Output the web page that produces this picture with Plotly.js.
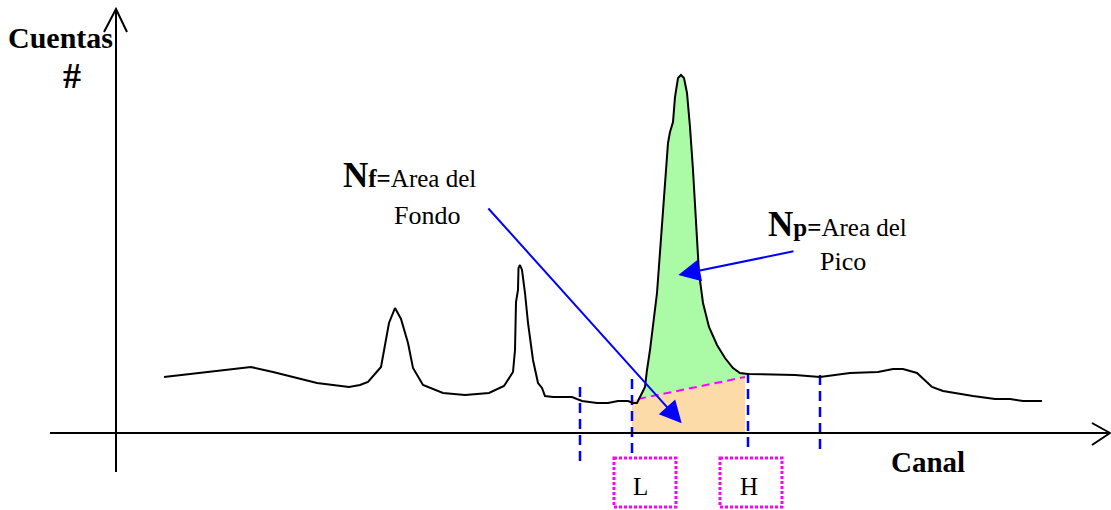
<!DOCTYPE html>
<html>
<head>
<meta charset="utf-8">
<script src="https://cdn.plot.ly/plotly-3.0.1.min.js"></script>
<style>html,body{margin:0;padding:0;background:#fff;}#chart{width:1111px;height:510px;}</style>
</head>
<body>
<div id="chart"></div>
<script>
// ---- spectrum data (channel, counts) ----
const channel = [164,251,273,317,349,360,368,381,389,395,401,408,413,423,443,465,489,504,513,515,516,518,518.5,520,522,525,528,533,538,542,545,553,572,582,597,608,618,628,633,637,642,645,647,650,657,663,668,670,673,675,678,681,684,687,690,693,696,699,703,709,717,725,733,740,748,795,820,850,878,893,903,917,932,943,973,995,1010,1023,1042];
const counts  = [56,66,61,50,46,48,51,66,110,125,114,90,65,48,40,38,40,47,61,83,131,143,165,168,163,140,110,73,50,45,37,36,36,32,30,30,32,32,30,30,40,46,63,83,140,223,290,301,311,336,355,358,355,340,306,263,206,160,130,106,88,75,65,60,59,58,56,60,61,64,64,60,46,42,37,34,34,32,32];

// region of interest and background windows
const roiChannels   = [632, 748];          // L, H
const windowChannels = [580, 632, 748, 820];
const windowTop      = [46, 54, 60, 58];
const windowBottom   = [-32, -24, -17, -20];
const roiLabels = ['L', 'H'];

// background line under the peak
const bgChannels = [638, 745];
const bgCounts   = [34, 56];

// texts
const yTitle1 = 'Cuentas';
const yTitle2 = '#';
const xTitle  = 'Canal';
const nfLine1 = "<b><span style='font-size:35px'>N</span>f=</b>Area del";
const nfLine2 = 'Fondo';
const npLine1 = "<b><span style='font-size:35px'>N</span>p=</b>Area del";
const npLine2 = 'Pico';

const FONT = "'Liberation Serif', 'Times New Roman', serif";
const BLUE = '#0000FF', MAG = '#FF00FF';

// ---- build fills ----
const bgAt = x => bgCounts[0] + (bgCounts[1]-bgCounts[0])*(x-bgChannels[0])/(bgChannels[1]-bgChannels[0]);
const orangeX = [roiChannels[0], roiChannels[0], bgChannels[1], bgChannels[1], roiChannels[0]];
const orangeY = [1, bgAt(roiChannels[0]), bgCounts[1], 1, 1];

const gX = [], gY = [];
for (let i=0;i<channel.length;i++){ if(channel[i]>=641 && channel[i]<=roiChannels[1]){ gX.push(channel[i]); gY.push(counts[i]); } }
gX.push(bgChannels[1], bgChannels[0]); gY.push(bgCounts[1], bgCounts[0]);

const traces = [];
traces.push({x:orangeX, y:orangeY, type:'scatter', mode:'lines', fill:'toself', fillcolor:'#FDDBA9', line:{width:0}, hoverinfo:'skip'});
traces.push({x:gX, y:gY, type:'scatter', mode:'lines', fill:'toself', fillcolor:'#AAFAA6', line:{width:0}, hoverinfo:'skip'});
traces.push({x:bgChannels, y:bgCounts, type:'scatter', mode:'lines', line:{color:MAG, width:2, dash:'8px,5px'}, hoverinfo:'skip'});
windowChannels.forEach((c,i)=>{
  traces.push({x:[c,c], y:[windowTop[i], windowBottom[i]], type:'scatter', mode:'lines', line:{color:BLUE, width:2.5, dash:'10px,6px'}, hoverinfo:'skip'});
});
traces.push({x:channel, y:counts, type:'scatter', mode:'lines', line:{color:'#000', width:2}, hoverinfo:'skip'});

// axes drawn as shapes
const shapes = [
  {type:'line', xref:'x', yref:'y', x0:50, y0:0, x1:1109, y1:0, line:{color:'#000', width:2}},
  {type:'path', xref:'x', yref:'y', path:'M1092,10 L1110,0 L1092,-12', line:{color:'#000', width:2}},
  {type:'line', xref:'x', yref:'y', x0:116, y0:-39, x1:116, y1:424, line:{color:'#000', width:2}},
  {type:'path', xref:'x', yref:'y', path:'M104,401 L116,424 L127,401', line:{color:'#000', width:2}}
];
roiChannels.forEach((c,i)=>{
  const cx = i===0 ? c+13 : c+3;
  shapes.push({type:'rect', xref:'x', yref:'y', x0:cx-31, x1:cx+31, y0:-25, y1:-74, line:{color:MAG, width:3, dash:'3px,2px'}});
});

const annotations = [
  {x:60.5, y:396, text:'<b>'+yTitle1+'</b>', showarrow:false, font:{family:FONT, size:30, color:'#000'}, xanchor:'center', yanchor:'middle', borderpad:0},
  {x:72, y:357, text:'<b>'+yTitle2+'</b>', showarrow:false, font:{family:FONT, size:36, color:'#000'}, xanchor:'center', yanchor:'middle', borderpad:0},
  {x:928, y:-29, text:'<b>'+xTitle+'</b>', showarrow:false, font:{family:FONT, size:29, color:'#000'}, xanchor:'center', yanchor:'middle', borderpad:0},
  {x:342, y:258, text:nfLine1, showarrow:false, font:{family:FONT, size:25, color:'#000'}, xanchor:'left', yanchor:'middle', borderpad:0},
  {x:427, y:218, text:nfLine2, showarrow:false, font:{family:FONT, size:26, color:'#000'}, xanchor:'center', yanchor:'middle', borderpad:0},
  {x:766.7, y:209, text:npLine1, showarrow:false, font:{family:FONT, size:25, color:'#000'}, xanchor:'left', yanchor:'middle', borderpad:0},
  {x:843, y:172, text:npLine2, showarrow:false, font:{family:FONT, size:26, color:'#000'}, xanchor:'center', yanchor:'middle', borderpad:0},
  {x:681.7, y:9.7, ax:487, ay:226, axref:'x', ayref:'y', text:'', showarrow:true, arrowhead:2, arrowsize:2.2, arrowwidth:2, arrowcolor:BLUE, standoff:0},
  {x:678.3, y:158, ax:795, ay:182, axref:'x', ayref:'y', text:'', showarrow:true, arrowhead:2, arrowsize:2.2, arrowwidth:2, arrowcolor:BLUE, standoff:0}
];
roiChannels.forEach((c,i)=>{
  const cx = i===0 ? c+8.5 : c+0.5;
  annotations.push({x:cx, y:-53, text:roiLabels[i], showarrow:false, font:{family:FONT, size:25, color:'#000'}, xanchor:'center', yanchor:'middle', borderpad:0});
});

const layout = {
  width:1111, height:510,
  margin:{l:0, r:0, t:0, b:0},
  paper_bgcolor:'#fff', plot_bgcolor:'#fff',
  showlegend:false,
  xaxis:{range:[0,1111], visible:false, fixedrange:true},
  yaxis:{range:[-77,433], visible:false, fixedrange:true},
  shapes:shapes,
  annotations:annotations
};
Plotly.newPlot('chart', traces, layout, {staticPlot:true, displayModeBar:false});
</script>
</body>
</html>
